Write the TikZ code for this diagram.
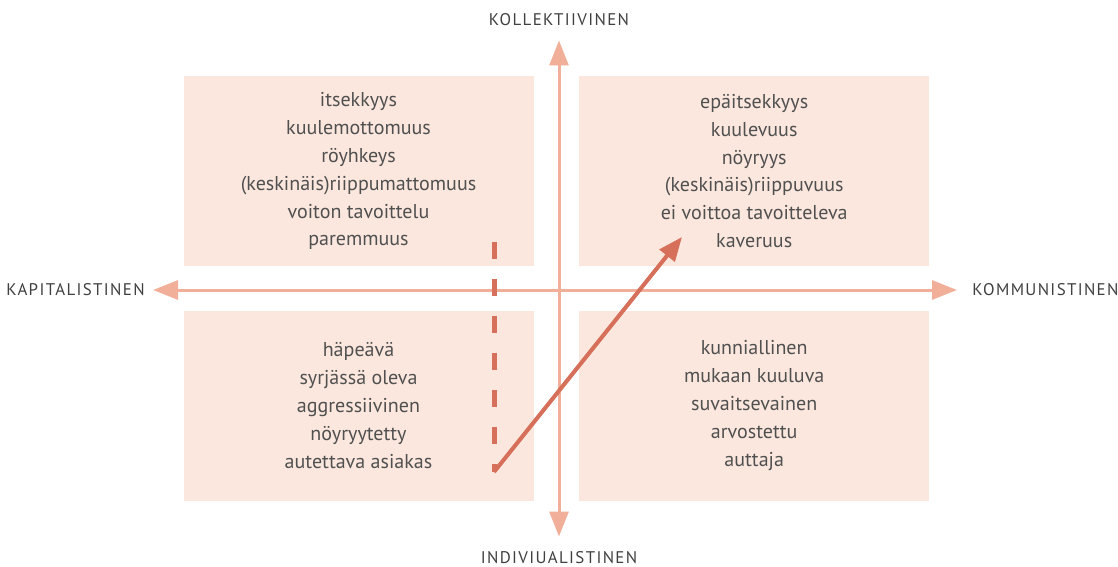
\documentclass[tikz,border=0pt]{standalone}
\usepackage{fontspec}
\setmainfont{PT Sans}
\newfontfamily\polefont[LetterSpace=8]{PT Sans}
\usetikzlibrary{arrows.meta,positioning}
\definecolor{BoxPink}{RGB}{251,231,221}
\definecolor{AxisSalmon}{RGB}{241,174,152}
\definecolor{PathRed}{RGB}{214,112,90}
\definecolor{WordGray}{RGB}{80,80,80}
\tikzset{
  quad/.style={fill=BoxPink,minimum width=7.0cm,minimum height=3.8cm,
    align=center,text=WordGray,font=\fontsize{11.4}{15.9}\selectfont},
  pole/.style={text=black!75,font=\polefont\fontsize{9.6}{11}\selectfont,
    inner sep=0pt},
  axis/.style={{Triangle[length=0.5cm,width=0.38cm]}-{Triangle[length=0.5cm,width=0.38cm]},
    line width=0.06cm,AxisSalmon},
  dashline/.style={PathRed,line width=0.1cm,dash pattern=on 0.34cm off 0.4cm},
  route/.style={-{Triangle[length=0.48cm,width=0.38cm]},line width=0.08cm,PathRed}
}

\begin{document}
\begin{tikzpicture}[node distance=0.88cm and 0.9cm]
  \useasboundingbox (0,0) rectangle (22.36,-11.34);
  % four quadrants
  \node[quad] (colcap) at (7.17,-3.42) {itsekkyys\\kuulemottomuus\\röyhkeys\\(keskinäis)riippumattomuus\\voiton tavoittelu\\paremmuus};
  \node[quad,right=of colcap] (colcom) {epäitsekkyys\\kuulevuus\\nöyryys\\(keskinäis)riippuvuus\\ei voittoa tavoitteleva\\kaveruus};
  \node[quad,below=of colcap] (indcap) {häpeävä\\syrjässä oleva\\aggressiivinen\\nöyryytetty\\autettava asiakas};
  \node[quad,below=of colcom] (indcom) {kunniallinen\\mukaan kuuluva\\suvaitsevainen\\arvostettu\\auttaja};
  % axis labels
  \node[pole,anchor=east] (kap) at (2.9,-5.8) {KAPITALISTINEN};
  \node[pole,anchor=west] (kom) at (19.44,-5.8) {KOMMUNISTINEN};
  \node[pole] (kol) at (11.18,-0.4) {KOLLEKTIIVINEN};
  \node[pole] (ind) at (11.18,-11.16) {INDIVIUALISTINEN};
  \draw[axis,shorten <=0.16cm,shorten >=0.3cm] (kap.east) -- (kom.west);
  \draw[axis,shorten <=0.28cm,shorten >=0.3cm] (kol.south) -- (ind.north);
  % movement
  \coordinate (dtop) at (9.88,-4.84);
  \coordinate (start) at (9.88,-9.44);
  \coordinate (goal) at (13.64,-4.74);
  \draw[dashline] (dtop) -- (start);
  \draw[route] (start) -- (goal);
\end{tikzpicture}
\end{document}
